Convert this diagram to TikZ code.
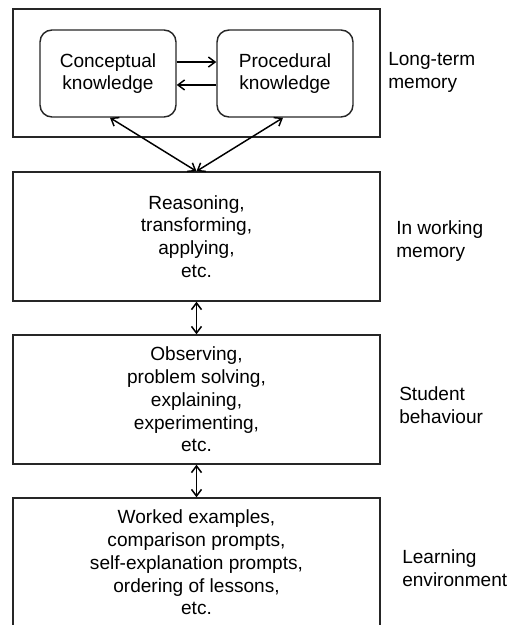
\documentclass[tikz,border=0pt]{standalone}
\usepackage{fontspec}
\setmainfont{Liberation Sans}
\usetikzlibrary{arrows.meta,positioning}

\tikzset{
  levelbox/.style={draw=black!85, line width=1.1pt, minimum width=275.25pt, minimum height=96.75pt, align=center, inner sep=0pt},
  knowbox/.style={draw=black!85, line width=1.1pt, rounded corners=9pt, minimum width=102pt, minimum height=65.25pt, align=center, inner sep=0pt},
  sidelabel/.style={anchor=west, align=left, inner sep=0pt},
  link/.style={line width=1.1pt, {Straight Barb[length=5pt,width=7.5pt]}-{Straight Barb[length=5pt,width=7.5pt]}},
  onelink/.style={line width=1.1pt, -{Straight Barb[length=5pt,width=7.5pt]}}
}

\begin{document}
\begin{tikzpicture}[x=0.75pt, y=-0.75pt, font=\fontsize{14.3}{17.1}\selectfont]
  \useasboundingbox (0,0) rectangle (510,625);
  \clip (0,0) rectangle (510,625);

  % Long-term memory
  \node[levelbox, minimum height=96pt] (ltm) at (196.5,73) {};
  \node[knowbox] (conc) at (108,73.5) {Conceptual\\knowledge};
  \node[knowbox] (proc) at (285,73.5) {Procedural\\knowledge};
  \draw[onelink] ([yshift=8.6pt]conc.east) -- ([yshift=8.6pt]proc.west);
  \draw[onelink] ([yshift=-8.6pt]proc.west) -- ([yshift=-8.6pt]conc.east);

  % Levels
  \node[levelbox] (work) at (196.5,236.5) {Reasoning,\\transforming,\\applying,\\etc.};
  \node[levelbox] (behav) at (196.5,399.5) {Observing,\\problem solving,\\explaining,\\experimenting,\\etc.};
  \node[levelbox] (envir) at (196.5,562.5) {Worked examples,\\comparison prompts,\\self-explanation prompts,\\ordering of lessons,\\etc.};

  % Connectors
  \draw[link] ([xshift=1.5pt]conc.south) -- (work.north);
  \draw[link] ([xshift=-1.5pt]proc.south) -- (work.north);
  \draw[link] (work.south) -- (behav.north);
  \draw[link] (behav.south) -- (envir.north);

  % Side labels
  \node[sidelabel] (ltmlab) at (388,72.5) {Long-term\\memory};
  \node[sidelabel] (worklab) at (396,241) {In working\\memory};
  \node[sidelabel] (behavlab) at (399,405) {Student\\behaviour};
  \node[sidelabel] (envirlab) at (402,568) {Learning\\environment};
\end{tikzpicture}
\end{document}
